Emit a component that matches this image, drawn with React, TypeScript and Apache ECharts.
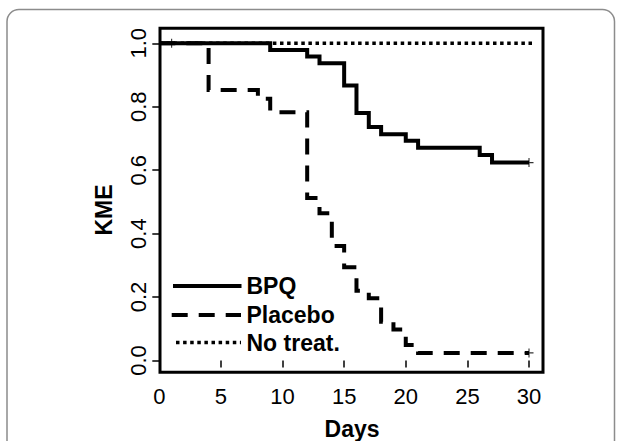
import React, { useEffect, useRef } from "react";
import * as echarts from "echarts";

// ---- data ----
const xTicks = [0, 5, 10, 15, 20, 25, 30];
const yTicks = [0, 0.2, 0.4, 0.6, 0.8, 1.0];

const bpqDays = [0, 9, 12, 13, 15, 16, 17, 18, 20, 21, 26, 27, 30];
const bpqKme = [1, 0.979, 0.958, 0.9375, 0.867, 0.78, 0.736, 0.7135, 0.693, 0.671, 0.648, 0.624, 0.624];

const placeboDays = [0, 4, 8, 9, 12, 13, 14, 15, 16, 17, 18, 19, 20, 21, 30];
const placeboKme = [1, 0.853, 0.825, 0.783, 0.512, 0.464, 0.361, 0.294, 0.22, 0.196, 0.122, 0.098, 0.049, 0.024, 0.024];

const noTreatDays = [0, 30.7];
const noTreatKme = [1, 1];

const censorDays = [1, 30, 30];
const censorKme = [1, 0.624, 0.024];

const seriesNames = ["BPQ", "Placebo", "No treat."];
const xTitle = "Days";
const yTitle = "KME";

const FONT = "'Liberation Sans', Arial, Helvetica, sans-serif";

const pairs = (xs: number[], ys: number[]) => xs.map((x, i) => [x, ys[i]]);

const lineStyles: any[] = [
  { color: "#000", width: 4, type: "solid", cap: "butt", join: "miter" },
  { color: "#000", width: 4, type: [16, 11], cap: "butt", join: "miter" },
  { color: "#000", width: 3.5, type: [3.5, 3.6], cap: "butt", join: "miter" },
];

const PLUS = "path://M7,0h2v7h7v2h-7v7h-2v-7h-7v-2h7z";

export default function App() {
  const ref = useRef<HTMLDivElement>(null);

  useEffect(() => {
    if (!ref.current) return;
    const chart = echarts.init(ref.current, null, { renderer: "svg" });

    const legendY = [286, 315, 342.5];
    const legendLineX = [[173, 241.5], [171.7, 241], [176, 241]];
    const legendGraphics: any[] = [];
    seriesNames.forEach((name, i) => {
      const ls = lineStyles[i];
      legendGraphics.push({
        type: "line",
        shape: { x1: legendLineX[i][0], y1: legendY[i], x2: legendLineX[i][1], y2: legendY[i] },
        style: {
          stroke: "#000",
          lineWidth: ls.width,
          lineDash: Array.isArray(ls.type) ? ls.type : null,
          lineCap: "butt",
        },
        silent: true,
      });
      legendGraphics.push({
        type: "text",
        x: 246.5,
        y: legendY[i],
        style: {
          text: name,
          font: `bold 23px ${FONT}`,
          fill: "#000",
          align: "left",
          textAlign: "left",
          verticalAlign: "middle",
          textVerticalAlign: "middle",
        },
        silent: true,
      });
    });

    const option: any = {
      animation: false,
      backgroundColor: "#fff",
      grid: {
        left: 159.3,
        top: 43.3,
        width: 369.7,
        height: 317.2,
        show: false,
        containLabel: false,
        outerBoundsMode: "none",
      },
      xAxis: {
        type: "value",
        min: xTicks[0],
        max: xTicks[xTicks.length - 1],
        interval: xTicks[1] - xTicks[0],
        offset: 12,
        axisLine: { show: false },
        axisTick: { show: true, length: 7, lineStyle: { color: "#000", width: 1.5 } },
        axisLabel: {
          show: true,
          margin: 13,
          color: "#000",
          fontFamily: FONT,
          fontSize: 22,
        },
        splitLine: { show: false },
      },
      yAxis: {
        type: "value",
        min: yTicks[0],
        max: yTicks[yTicks.length - 1],
        interval: yTicks[1] - yTicks[0],
        axisLine: { show: false },
        axisTick: { show: true, length: 7, lineStyle: { color: "#000", width: 1.5 } },
        axisLabel: {
          show: true,
          rotate: 90,
          margin: 10,
          color: "#000",
          fontFamily: FONT,
          fontSize: 22,
          formatter: (v: number) => v.toFixed(1),
        },
        splitLine: { show: false },
      },
      series: [
        {
          name: seriesNames[0],
          type: "line",
          step: "end",
          data: pairs(bpqDays, bpqKme),
          symbol: "none",
          clip: false,
          lineStyle: lineStyles[0],
          z: 3,
        },
        {
          name: seriesNames[1],
          type: "line",
          step: "end",
          data: pairs(placeboDays, placeboKme),
          symbol: "none",
          clip: false,
          lineStyle: lineStyles[1],
          z: 3,
        },
        {
          name: seriesNames[2],
          type: "line",
          step: "end",
          data: pairs(noTreatDays, noTreatKme),
          symbol: "none",
          clip: false,
          lineStyle: lineStyles[2],
          z: 2,
        },
        {
          name: "censored",
          type: "scatter",
          data: pairs(censorDays, censorKme),
          symbol: PLUS,
          symbolSize: 9,
          clip: false,
          itemStyle: { color: "#000" },
          z: 4,
        },
      ],
      graphic: [
        {
          type: "rect",
          shape: { x: 7, y: 9.5, width: 607.5, height: 470, r: 12 },
          style: { fill: "none", stroke: "#8c8c8c", lineWidth: 1.5 },
          silent: true,
          z: 0,
        },
        {
          type: "rect",
          shape: { x: 160, y: 28.3, width: 383, height: 344 },
          style: { fill: "none", stroke: "#000", lineWidth: 3 },
          silent: true,
          z: 10,
        },
        {
          type: "text",
          x: 352,
          y: 429,
          style: {
            text: xTitle,
            font: `bold 23px ${FONT}`,
            fill: "#000",
            align: "center",
            textAlign: "center",
            verticalAlign: "middle",
            textVerticalAlign: "middle",
          },
          silent: true,
        },
        {
          type: "text",
          x: 104,
          y: 210,
          rotation: Math.PI / 2,
          style: {
            text: yTitle,
            font: `bold 23px ${FONT}`,
            fill: "#000",
            align: "center",
            textAlign: "center",
            verticalAlign: "middle",
            textVerticalAlign: "middle",
          },
          silent: true,
        },
        ...legendGraphics,
      ],
    };

    chart.setOption(option);
    return () => chart.dispose();
  }, []);

  return (
    <div
      ref={ref}
      style={{ position: "fixed", left: 0, top: 0, width: 622, height: 441, background: "#fff" }}
    />
  );
}
